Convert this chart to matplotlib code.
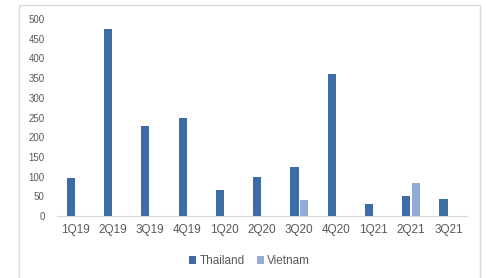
import numpy as np
import matplotlib
matplotlib.use('Agg')
import matplotlib.pyplot as plt
from matplotlib.patches import Rectangle

# data
quarters = ['1Q19', '2Q19', '3Q19', '4Q19', '1Q20', '2Q20', '3Q20', '4Q20', '1Q21', '2Q21', '3Q21']
thailand = [96, 475, 228, 249, 66, 99, 124, 360, 30, 51, 43]
vietnam = [0, 0, 0, 0, 0, 0, 41, 0, 0, 84, 0]
yticks = [0, 50, 100, 150, 200, 250, 300, 350, 400, 450, 500]

plt.rcParams['font.family'] = ['Liberation Sans', 'DejaVu Sans']

fig = plt.figure(figsize=(4.86, 2.78), dpi=100)
fig.patches.append(Rectangle((19/486, -0.02), (480-19)/486, 1.0 - 5/278 + 0.02,
                             transform=fig.transFigure, fill=False,
                             edgecolor='#d9d9d9', linewidth=1.0))

ax = fig.add_axes([57/486, 1-216/278, (467-57)/486, (216-19)/278])

x = np.arange(len(quarters))
w = 0.22
ax.bar(x - 0.13, thailand, width=w, color='#3d6ca6', label='Thailand')
ax.bar(x + 0.13, vietnam, width=w, color='#93acd6', label='Vietnam')

ax.set_xlim(-0.5, len(quarters) - 0.5)
ax.set_ylim(0, 500)
ax.set_yticks(yticks)
ax.set_xticks(x)
ax.set_xticklabels(quarters)

for s in ['top', 'right', 'left']:
    ax.spines[s].set_visible(False)
ax.spines['bottom'].set_color('#d9d9d9')
ax.tick_params(axis='both', length=0, colors='#595959', labelsize=8.5)
ax.tick_params(axis='y', labelsize=7, pad=9)
ax.tick_params(axis='x', pad=6)

ax.legend(loc='upper center', bbox_to_anchor=(0.47, -0.145), ncol=2, frameon=False,
          fontsize=8.5, handlelength=0.6, handleheight=0.6, handletextpad=0.3,
          columnspacing=1.0, labelcolor='#595959')

fig.savefig('out.png', dpi=100)
